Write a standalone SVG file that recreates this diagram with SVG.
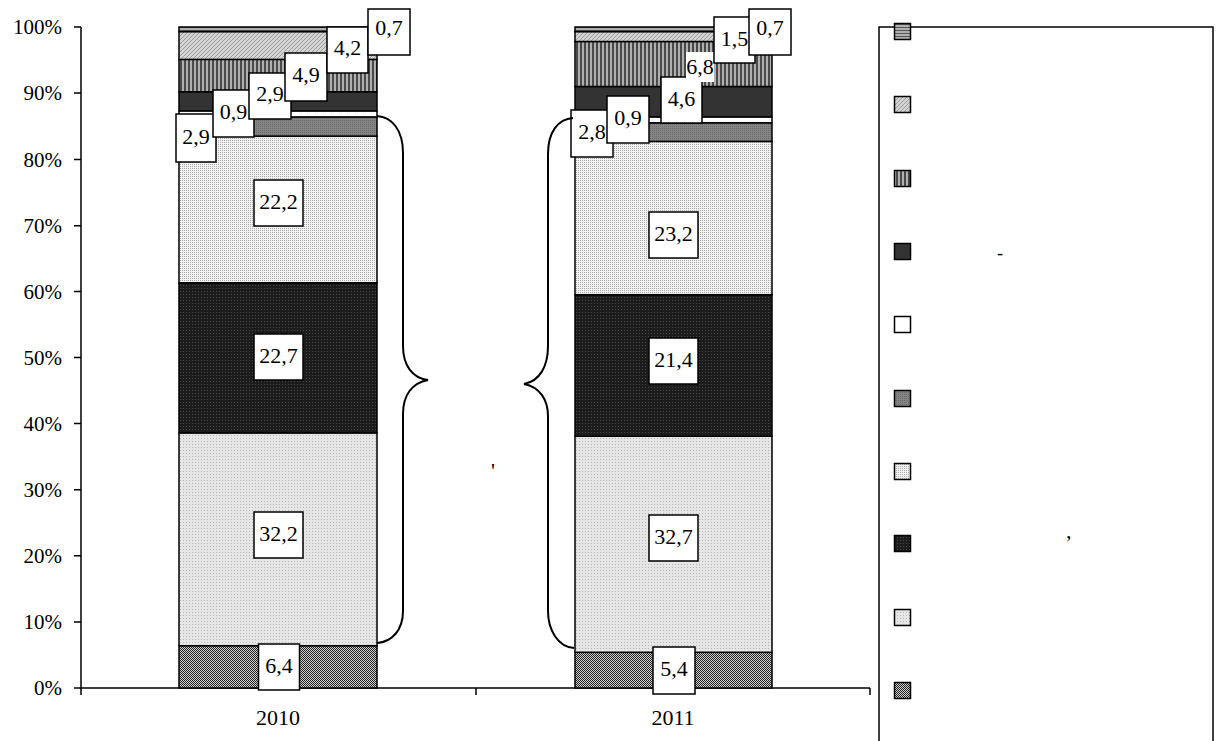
<svg xmlns="http://www.w3.org/2000/svg" width="1216" height="741" viewBox="0 0 1216 741">
<style>
text{font-family:"Liberation Serif","Times New Roman",serif;font-size:22px;fill:#000}
.ax{font-size:21px;text-anchor:end}
.lb{text-anchor:middle}
.seg{stroke:#000;stroke-width:1.5}
.box{fill:#fff;stroke:#000;stroke-width:1.5}
.axis{stroke:#000;stroke-width:1.5;fill:none}
.brace{stroke:#000;stroke-width:2;fill:none}
.leg{stroke:#000;stroke-width:1.5}
</style>
<defs>
<pattern id="pCheck" width="2" height="2" patternUnits="userSpaceOnUse"><rect width="2" height="2" fill="#d0d0d0"/><rect width="1" height="1" fill="#222"/><rect x="1" y="1" width="1" height="1" fill="#222"/></pattern>
<pattern id="pLight" width="3" height="3" patternUnits="userSpaceOnUse"><rect width="3" height="3" fill="#e6e6e6"/><rect width="1" height="1" fill="#b4b4b4"/></pattern>
<pattern id="pDark" width="3" height="3" patternUnits="userSpaceOnUse"><rect width="3" height="3" fill="#1c1c1c"/><rect width="1" height="1" fill="#4a4a4a"/></pattern>
<pattern id="pDots" width="2" height="2" patternUnits="userSpaceOnUse"><rect width="2" height="2" fill="#f2f2f2"/><rect width="1" height="1" fill="#a8a8a8"/></pattern>
<pattern id="pMed" width="2" height="2" patternUnits="userSpaceOnUse"><rect width="2" height="2" fill="#858585"/><rect width="1" height="1" fill="#6a6a6a"/></pattern>
<pattern id="pVert" width="4" height="4" patternUnits="userSpaceOnUse"><rect width="4" height="4" fill="#b0b0b0"/><rect width="2" height="4" fill="#4a4a4a"/></pattern>
<pattern id="pDiag" width="4" height="4" patternUnits="userSpaceOnUse"><rect width="4" height="4" fill="#d4d4d4"/><path d="M0,4 L4,0" stroke="#9a9a9a" stroke-width="1"/></pattern>
<pattern id="pHoriz" width="3" height="3" patternUnits="userSpaceOnUse"><rect width="3" height="3" fill="#b0b0b0"/><rect width="3" height="1" fill="#555"/></pattern>
</defs>
<rect width="1216" height="741" fill="#fff"/>

<g id="axes">
<path class="axis" d="M81,27 V688 H870"/>
<path class="axis" d="M74,27 H81 M74,93 H81 M74,159.5 H81 M74,225.7 H81 M74,291.6 H81 M74,357.5 H81 M74,423.6 H81 M74,489.7 H81 M74,555.8 H81 M74,621.9 H81 M74,688 H81"/>
<path class="axis" d="M81,688 V695 M476,688 V695 M870,688 V695"/>
<text class="ax" x="62" y="34">100%</text>
<text class="ax" x="62" y="100">90%</text>
<text class="ax" x="62" y="167">80%</text>
<text class="ax" x="62" y="233">70%</text>
<text class="ax" x="62" y="299">60%</text>
<text class="ax" x="62" y="365">50%</text>
<text class="ax" x="62" y="431">40%</text>
<text class="ax" x="62" y="497">30%</text>
<text class="ax" x="62" y="563">20%</text>
<text class="ax" x="62" y="629">10%</text>
<text class="ax" x="62" y="695">0%</text>
<text class="lb" x="278" y="725">2010</text>
<text class="lb" x="673" y="725">2011</text>
</g>

<g id="bar2010">
<rect class="seg" x="179" y="645.7" width="198" height="42.3" fill="url(#pCheck)"/>
<rect class="seg" x="179" y="432.9" width="198" height="212.8" fill="url(#pLight)"/>
<rect class="seg" x="179" y="282.8" width="198" height="150.1" fill="url(#pDark)"/>
<rect class="seg" x="179" y="136.1" width="198" height="146.7" fill="url(#pDots)"/>
<rect class="seg" x="179" y="116.9" width="198" height="19.2" fill="url(#pMed)"/>
<rect class="seg" x="179" y="110.9" width="198" height="6" fill="#fff"/>
<rect class="seg" x="179" y="91.8" width="198" height="19.1" fill="#333"/>
<rect class="seg" x="179" y="59.4" width="198" height="32.4" fill="url(#pVert)"/>
<rect class="seg" x="179" y="31.6" width="198" height="27.8" fill="url(#pDiag)"/>
<rect class="seg" x="179" y="27" width="198" height="4.6" fill="url(#pHoriz)"/>
</g>

<g id="bar2011">
<rect class="seg" x="575" y="652.3" width="197" height="35.7" fill="url(#pCheck)"/>
<rect class="seg" x="575" y="436.2" width="197" height="216.1" fill="url(#pLight)"/>
<rect class="seg" x="575" y="294.7" width="197" height="141.5" fill="url(#pDark)"/>
<rect class="seg" x="575" y="141.4" width="197" height="153.3" fill="url(#pDots)"/>
<rect class="seg" x="575" y="122.8" width="197" height="18.6" fill="url(#pMed)"/>
<rect class="seg" x="575" y="116.9" width="197" height="5.9" fill="#fff"/>
<rect class="seg" x="575" y="86.5" width="197" height="30.4" fill="#333"/>
<rect class="seg" x="575" y="41.5" width="197" height="45" fill="url(#pVert)"/>
<rect class="seg" x="575" y="31.6" width="197" height="9.9" fill="url(#pDiag)"/>
<rect class="seg" x="575" y="27" width="197" height="4.6" fill="url(#pHoriz)"/>
</g>

<g id="labels2010">
<rect class="box" x="258.5" y="644" width="41" height="46"/><text class="lb" x="279" y="673">6,4</text>
<rect class="box" x="254" y="512" width="49" height="46"/><text class="lb" x="278.5" y="541">32,2</text>
<rect class="box" x="254" y="334" width="49" height="46"/><text class="lb" x="278.5" y="363">22,7</text>
<rect class="box" x="254" y="180" width="49" height="46"/><text class="lb" x="278.5" y="209">22,2</text>
<rect class="box" x="176" y="114" width="40" height="48"/><text class="lb" x="196" y="144">2,9</text>
<rect class="box" x="213" y="90" width="41" height="47"/><text class="lb" x="233.5" y="119">0,9</text>
<rect class="box" x="249" y="73" width="42" height="46"/><text class="lb" x="270" y="101">2,9</text>
<rect class="box" x="285" y="53" width="42" height="48"/><text class="lb" x="306" y="82">4,9</text>
<rect class="box" x="327" y="27" width="41" height="46"/><text class="lb" x="347.5" y="55">4,2</text>
<rect class="box" x="368" y="9" width="42" height="46"/><text class="lb" x="389" y="35">0,7</text>
</g>

<g id="labels2011">
<rect class="box" x="653" y="647" width="42" height="47"/><text class="lb" x="674" y="676">5,4</text>
<rect class="box" x="649" y="515" width="49" height="46"/><text class="lb" x="673.5" y="544">32,7</text>
<rect class="box" x="649" y="338" width="49" height="46"/><text class="lb" x="673.5" y="367">21,4</text>
<rect class="box" x="649" y="212" width="49" height="46"/><text class="lb" x="673.5" y="241">23,2</text>
<rect class="box" x="571" y="110" width="42" height="47"/><text class="lb" x="592" y="139">2,8</text>
<rect class="box" x="607" y="96" width="42" height="47"/><text class="lb" x="628" y="125">0,9</text>
<rect class="box" x="661" y="77" width="41" height="46"/><text class="lb" x="681.5" y="106">4,6</text>
<rect x="686" y="52" width="28" height="30" fill="#fff"/><text class="lb" x="700" y="74">6,8</text>
<rect class="box" x="714" y="17" width="41" height="46"/><text class="lb" x="734.5" y="46">1,5</text>
<rect class="box" x="749" y="9" width="42" height="46"/><text class="lb" x="770" y="35">0,7</text>
</g>

<g id="connectors">
<path class="brace" d="M377,116 C392,117 403,130 403,153 L403,346 C403,365 412,378 428,380 C412,383 403,395 403,414 L403,611 C403,630 392,642 377,643"/>
<path class="brace" d="M573,118 C558,119 548,132 548,154 L548,346 C548,366 540,381 524,384 C540,387 548,400 548,416 L548,611 C548,630 558,647 574,648"/>
</g>

<text x="491" y="478">'</text>

<g id="legend">
<path class="axis" d="M879,741 V27 H1213 V741"/>
<rect class="leg" x="894.5" y="23.5" width="16" height="16" fill="url(#pHoriz)"/>
<rect class="leg" x="894.5" y="96.5" width="16" height="16" fill="url(#pDiag)"/>
<rect class="leg" x="894.5" y="170.5" width="16" height="16" fill="url(#pVert)"/>
<rect class="leg" x="894.5" y="243.5" width="16" height="16" fill="#333"/>
<rect class="leg" x="894.5" y="316.5" width="16" height="16" fill="#fff"/>
<rect class="leg" x="894.5" y="390.5" width="16" height="16" fill="url(#pMed)"/>
<rect class="leg" x="894.5" y="463.5" width="16" height="16" fill="url(#pDots)"/>
<rect class="leg" x="894.5" y="535.5" width="16" height="16" fill="url(#pDark)"/>
<rect class="leg" x="894.5" y="609.5" width="16" height="16" fill="url(#pLight)"/>
<rect class="leg" x="894.5" y="682.5" width="16" height="16" fill="url(#pCheck)"/>
<text x="997" y="259" style="font-size:18px">-</text>
<text x="1066" y="538">,</text>
</g>
</svg>
